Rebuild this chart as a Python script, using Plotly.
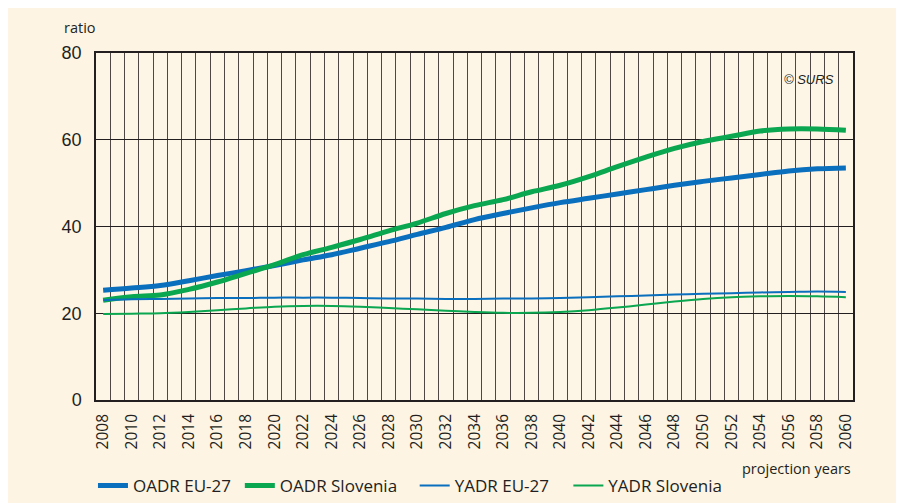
import plotly.graph_objects as go

years = list(range(2008, 2061, 2))
oadr_eu = [25.3, 25.8, 26.4, 27.5, 28.7, 29.8, 31.0, 32.3, 33.5, 35.0, 36.5, 38.2, 39.8, 41.6,
           43.0, 44.3, 45.5, 46.5, 47.5, 48.5, 49.5, 50.4, 51.2, 52.0, 52.8, 53.3, 53.5]
oadr_si = [23.0, 23.8, 24.2, 25.5, 27.2, 29.2, 31.2, 33.5, 35.2, 37.0, 39.0, 40.8, 43.0, 44.8,
           46.2, 48.0, 49.5, 51.5, 53.8, 56.0, 58.0, 59.6, 60.8, 62.0, 62.5, 62.5, 62.2]
yadr_eu = [23.0, 23.2, 23.3, 23.4, 23.5, 23.5, 23.6, 23.6, 23.6, 23.5, 23.4, 23.4, 23.3, 23.3,
           23.4, 23.4, 23.5, 23.7, 23.9, 24.1, 24.3, 24.5, 24.6, 24.8, 24.9, 25.0, 24.9]
yadr_si = [19.8, 19.9, 20.0, 20.3, 20.7, 21.1, 21.5, 21.7, 21.7, 21.5, 21.2, 20.9, 20.6, 20.3,
           20.1, 20.1, 20.3, 20.7, 21.3, 22.0, 22.7, 23.3, 23.7, 23.9, 24.0, 23.9, 23.7]

BLUE = "#0a6fbd"
GREEN = "#0aa650"
FONT = "Open Sans"
TXT = "#231f20"

fig = go.Figure()
fig.add_trace(go.Scatter(x=years, y=oadr_eu, name="OADR EU-27", mode="lines", legend="legend",
                         line=dict(color=BLUE, width=5, shape="spline")))
fig.add_trace(go.Scatter(x=years, y=oadr_si, name="OADR Slovenia", mode="lines", legend="legend2",
                         line=dict(color=GREEN, width=5, shape="spline")))
fig.add_trace(go.Scatter(x=years, y=yadr_eu, name="YADR EU-27", mode="lines", legend="legend3",
                         line=dict(color=BLUE, width=2, shape="spline")))
fig.add_trace(go.Scatter(x=years, y=yadr_si, name="YADR Slovenia", mode="lines", legend="legend4",
                         line=dict(color=GREEN, width=2, shape="spline")))

def leg(x):
    return dict(orientation="h", x=x, xanchor="left", yref="container", y=0.05,
                yanchor="middle",
                font=dict(family=FONT, size=17, color=TXT), bgcolor="rgba(0,0,0,0)",
                itemwidth=30)

fig.update_layout(
    width=904, height=503,
    margin=dict(l=88, r=59, t=45, b=111, autoexpand=False),
    paper_bgcolor="#fdf4e4",
    plot_bgcolor="#fdf5e6",
    font=dict(family=FONT, color=TXT, size=15),
    showlegend=True,
    legend=leg(-0.004),
    legend2=leg(0.190),
    legend3=leg(0.421),
    legend4=leg(0.624),
    xaxis=dict(range=[2007.5, 2060.5], tickmode="linear", tick0=2008, dtick=2,
               tickangle=-90, showgrid=False, showline=True, mirror=True,
               linecolor="#231f20", linewidth=1.5, ticks="", zeroline=False,
               ticklabelstandoff=6,
               tickfont=dict(family=FONT, size=15.5, color=TXT),
               minor=dict(tick0=2007.5, dtick=1, showgrid=True,
                          gridcolor="#4e4743", gridwidth=1.3)),
    yaxis=dict(range=[0, 80], tickvals=[0, 20, 40, 60, 80], showgrid=True,
               gridcolor="#231f20", gridwidth=1.3, showline=True, mirror=True,
               linecolor="#231f20", linewidth=1.5, ticks="", zeroline=False,
               ticklabelstandoff=9,
               tickfont=dict(family="Liberation Sans", size=18, color=TXT)),
    annotations=[
        dict(text="ratio", xref="paper", yref="paper", x=0.003, y=1.039, xanchor="right",
             yanchor="bottom", showarrow=False, font=dict(family=FONT, size=14.5, color=TXT)),
        dict(text="projection years", xref="paper", yref="paper", x=1.0, y=-0.165,
             xanchor="right", yanchor="top", showarrow=False,
             font=dict(family=FONT, size=14.5, color=TXT)),
        dict(text="<i>© SURS</i>", xref="paper", yref="paper", x=0.9775, y=0.95,
             xanchor="right", yanchor="top", showarrow=False,
             font=dict(family="Liberation Sans", size=13, color=TXT)),
    ],
)

fig.write_html("out.html")
